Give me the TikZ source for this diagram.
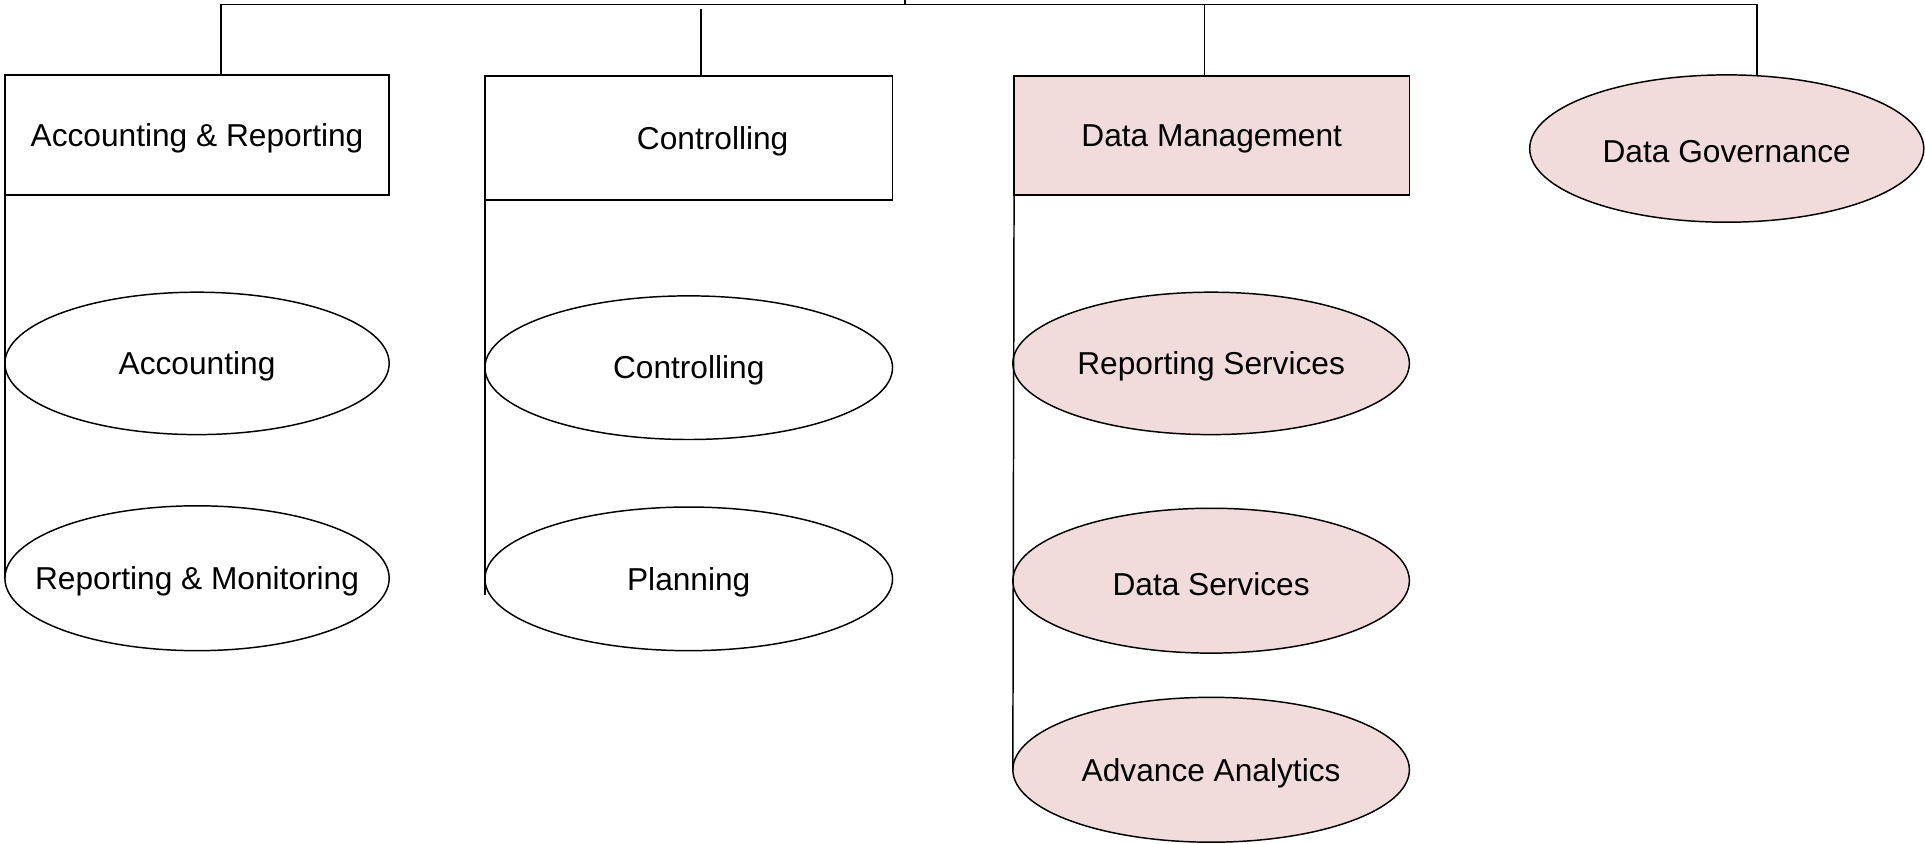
\documentclass[tikz,border=0pt]{standalone}
\usepackage{fontspec}
\setmainfont{Liberation Sans}
\usetikzlibrary{shapes.geometric}
\definecolor{pinkfill}{HTML}{F2DCDB}
\begin{document}
\begin{tikzpicture}[x=1pt,y=-1pt, line width=1.2pt,
  every node/.style={font=\fontsize{25.8}{31}\selectfont, inner sep=0pt, outer sep=0pt},
  every label/.style={yshift=-2.5pt},
  box/.style={draw, rectangle},
  ell/.style={draw, ellipse},
  pinky/.style={fill=pinkfill}]
\useasboundingbox (0,0) rectangle (1568,687);
% boxes
\node[box, minimum width=313pt, minimum height=98pt, label={center:Accounting \& Reporting}] (ar) at (160.5,110) {};
\node[box, minimum width=332pt, minimum height=101pt, label={[xshift=19.5pt]center:Controlling}] (ctl) at (561,112.5) {};
\node[box, pinky, minimum width=322pt, minimum height=97pt, label={center:Data Management}] (dm) at (987,110.5) {};
\node[ell, pinky, minimum width=321pt, minimum height=120pt, label={center:Data Governance}] (dg) at (1406.5,121) {};
% ellipses
\node[ell, minimum width=313pt, minimum height=116pt, label={center:Accounting}] (acc) at (160.5,296) {};
\node[ell, minimum width=313pt, minimum height=118pt, label={center:Reporting \& Monitoring}] (rm) at (160.5,471) {};
\node[ell, minimum width=332pt, minimum height=117pt, label={center:Controlling}] (ctle) at (561,299.5) {};
\node[ell, minimum width=332pt, minimum height=117pt, label={center:Planning}] (pl) at (561,471.5) {};
\node[ell, pinky, minimum width=323pt, minimum height=116pt, label={center:Reporting Services}] (rs) at (986.5,296) {};
\node[ell, pinky, minimum width=323pt, minimum height=118pt, label={center:Data Services}] (ds) at (986.5,473) {};
\node[ell, pinky, minimum width=323pt, minimum height=118pt, label={center:Advance Analytics}] (aa) at (986.5,627) {};
% connectors
\coordinate (top) at (737,0);
\coordinate (bus) at (737,3.5);
\coordinate (b1) at (180,3.5);
\coordinate (b2) at (571,7);
\coordinate (b3) at (981,3.5);
\coordinate (b4) at (1431,3.5);
\coordinate (c2end) at (395,485);
\draw (top) -- (bus);
\draw (b1) -- (b4);
\draw (b1) -- (b1 |- ar.north);
\draw (b2) -- (b2 |- ctl.north);
\draw (b3) -- (b3 |- dm.north);
\draw (b4) -- (b4 |- dg.north);
\draw (ar.south west) -- (rm.west);
\draw (ctl.south west) -- (c2end);
\draw (dm.south west) -- (aa.west);
\end{tikzpicture}
\end{document}
